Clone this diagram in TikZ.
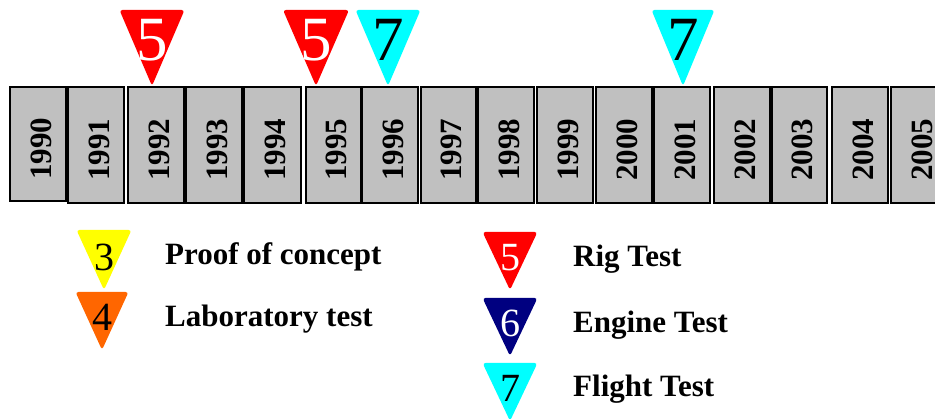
\documentclass[tikz,border=0pt]{standalone}
\usepackage{fontspec}
\setmainfont{Liberation Serif}
\usetikzlibrary{calc}
\definecolor{boxgray}{HTML}{C0C0C0}
\definecolor{mkred}{HTML}{FF0000}
\definecolor{mkcyan}{HTML}{00FFFF}
\definecolor{mkyellow}{HTML}{FFFF00}
\definecolor{mkorange}{HTML}{FF6600}
\definecolor{mknavy}{HTML}{000080}
\newcommand{\mytri}[9]{%
  \fill[#6, rounded corners=3pt] (#2-#5,#3) -- (#2+#5,#3) -- (#2,#4) -- cycle;
  \pgfmathsetmacro\mybase{#3+0.67*(#4-#3)}
  \node[anchor=base, inner sep=0pt, text=#7, font=\fontsize{#9}{#9}\selectfont] (#1) at (#2,\mybase) {#8};
}
\begin{document}
\begin{tikzpicture}[x=1pt,y=-1pt,
  yearbox/.style={draw=black, line width=1.5pt, fill=boxgray, inner sep=0pt, outer sep=0pt},
  yeartext/.style={rotate=90, font=\bfseries\fontsize{31}{31}\selectfont, inner sep=0pt},
  legtext/.style={anchor=base west, font=\bfseries\fontsize{31}{31}\selectfont, inner sep=0pt}]
\useasboundingbox (0,0) rectangle (935,419);
\foreach \yr/\l/\r/\b in {1990/10/66/201, 1991/68/124/203, 1992/128/184/203, 1993/186/242/203,
  1994/244/301/203, 1995/306/361/203, 1996/362/418/203, 1997/421/476/203, 1998/478/534/203,
  1999/537/593/203, 2000/596/652/203, 2001/654/710/203, 2002/714/770/203, 2003/772/827/203,
  2004/832/888/203, 2005/891/947/203}{
  \node[yearbox, minimum width={(\r-\l)*1pt}, minimum height={(\b-87)*1pt}] (b\yr) at ({(\l+\r)/2},{(87+\b)/2}) {};
  \node[yeartext] (t\yr) at ($(b\yr.center)+(3,5)$) {\yr};
}
% timeline markers
\mytri{m1992}{152}{10}{86}{32.5}{mkred}{white}{5}{63}
\mytri{m1995}{316}{10}{86}{33}{mkred}{white}{5}{63}
\mytri{m1996}{388}{10}{86}{32.5}{mkcyan}{black}{7}{63}
\mytri{m2001}{683}{10}{86}{31.5}{mkcyan}{black}{7}{63}
% legend
\mytri{k3}{104}{230}{290}{27.5}{mkyellow}{black}{3}{40}
\mytri{k4}{102}{292}{350}{26.5}{mkorange}{black}{4}{40}
\mytri{k5}{510}{232}{290}{27.5}{mkred}{white}{5}{40}
\mytri{k6}{510}{298}{356}{27.5}{mknavy}{white}{6}{40}
\mytri{k7}{510}{363}{421}{27.5}{mkcyan}{black}{7}{40}
\node[legtext] (l3) at (165,265) {Proof of concept};
\node[legtext] (l4) at (165,327) {Laboratory test};
\node[legtext] (l5) at (573,267) {Rig Test};
\node[legtext] (l6) at (573,333) {Engine Test};
\node[legtext] (l7) at (573,397) {Flight Test};
\end{tikzpicture}
\end{document}
